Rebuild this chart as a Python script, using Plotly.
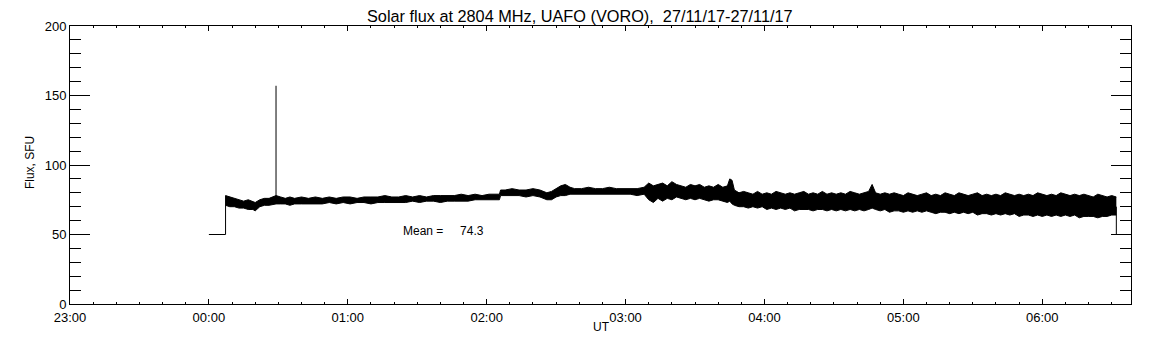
import pandas as pd
import plotly.graph_objects as go

# ---- data (minutes after 00:00 UT, 27/11/17; flux in SFU) ----
band_minutes = [
    7.2, 9, 11, 13, 15, 17, 19, 20, 22, 24, 26, 28, 29, 31, 33, 35, 37, 40, 43, 46,
    49, 52, 55, 58, 61, 64, 67, 70, 73, 76, 79, 82, 85, 88, 91, 94, 97, 100, 103, 106,
    109, 112, 115, 118, 121, 124, 125.5, 126, 128, 131, 134, 137, 140, 143, 146, 148, 150, 152, 154, 156,
    158, 161, 164, 167, 170, 173, 176, 179, 182, 185, 188, 190, 192, 194, 196, 198, 200, 202, 204, 206,
    208, 210, 212, 214, 216, 218, 220, 222, 224, 225, 226, 227, 229, 231, 233, 235, 237, 239, 241, 243,
    245, 247, 249, 251, 253, 255, 257, 259, 261, 263, 265, 267, 269, 271, 273, 275, 277, 279, 281, 283,
    285, 286.5, 288, 290, 292, 294, 296, 298, 300, 302, 304, 306, 308, 310, 312, 314, 316, 318, 320, 322,
    324, 326, 328, 330, 332, 334, 336, 338, 340, 342, 344, 346, 348, 350, 352, 354, 356, 358, 360, 362,
    364, 366, 368, 370, 372, 374, 376, 378, 380, 382, 384, 386, 388, 390, 392,
]
band_upper = [
    78, 77, 76, 75, 74, 75, 74, 73, 75, 76, 76, 77, 78, 77, 76, 77, 76, 77, 76, 77,
    76, 77, 76, 77, 77, 76, 77, 77, 77, 78, 77, 77, 78, 77, 78, 77, 78, 78, 78, 78,
    79, 78, 79, 78, 79, 79, 79, 82, 82, 83, 82, 82, 83, 82, 80, 81, 83, 85, 86, 84,
    83, 83, 84, 83, 83, 84, 83, 83, 83, 83, 84, 87, 85, 86, 87, 85, 88, 86, 85, 84,
    86, 85, 86, 84, 85, 84, 86, 84, 85, 90, 89, 82, 80, 81, 80, 79, 81, 79, 80, 79,
    81, 80, 79, 80, 79, 80, 81, 79, 80, 79, 81, 79, 80, 79, 80, 79, 81, 80, 79, 80,
    81, 86, 80, 79, 80, 79, 80, 79, 78, 80, 79, 78, 79, 80, 78, 79, 78, 80, 79, 78,
    80, 79, 78, 79, 80, 78, 79, 78, 79, 78, 80, 79, 78, 79, 78, 79, 78, 80, 79, 78,
    79, 78, 80, 79, 78, 79, 78, 79, 78, 77, 79, 78, 77, 78, 77,
]
band_lower = [
    71, 70, 70, 69, 69, 68, 68, 67, 70, 71, 71, 72, 72, 72, 72, 71, 72, 72, 72, 72,
    72, 73, 72, 73, 72, 73, 73, 72, 73, 73, 73, 73, 73, 74, 73, 74, 74, 73, 74, 74,
    74, 74, 75, 75, 75, 75, 75, 78, 78, 78, 78, 77, 78, 77, 75, 75, 77, 78, 78, 79,
    79, 79, 79, 79, 79, 79, 79, 79, 79, 78, 79, 75, 73, 76, 74, 76, 75, 77, 76, 75,
    76, 75, 76, 75, 74, 75, 75, 74, 73, 74, 72, 71, 70, 70, 69, 70, 69, 70, 68, 69,
    68, 69, 68, 69, 67, 68, 68, 68, 67, 68, 68, 67, 68, 67, 68, 67, 68, 67, 68, 67,
    68, 69, 68, 67, 68, 66, 67, 67, 66, 67, 66, 67, 66, 67, 66, 65, 66, 66, 65, 66,
    65, 66, 65, 66, 64, 65, 65, 64, 65, 64, 65, 64, 65, 63, 64, 64, 63, 64, 63, 64,
    63, 64, 63, 64, 63, 64, 62, 63, 63, 63, 62, 63, 63, 64, 64,
]

# baseline before/after observation, and the spike
start_minutes = [0.0, 7.2, 7.2]
start_values = [50, 50, 78]
spike_minutes = [29, 29]
spike_values = [74, 157]
end_minutes = [392, 392]
end_values = [70, 50]

mean_value = 74.3
title_text = "Solar flux at 2804 MHz, UAFO (VORO),\u00a0\u00a027/11/17-27/11/17"
base_date = "2017-11-27 00:00"
x_range = ["2017-11-26 23:00", "2017-11-27 06:38:20"]


def to_time(minutes):
    return pd.Timestamp(base_date) + pd.to_timedelta(minutes, unit="m")


FONT = "Liberation Sans"
fig = go.Figure()

fig.add_trace(go.Scatter(x=to_time(band_minutes), y=band_lower, mode="lines",
                         line=dict(color="black", width=1),
                         hoverinfo="skip", showlegend=False))
fig.add_trace(go.Scatter(x=to_time(band_minutes), y=band_upper, mode="lines", fill="tonexty",
                         fillcolor="black", line=dict(color="black", width=1),
                         showlegend=False))
for xs, ys in [(start_minutes, start_values), (spike_minutes, spike_values), (end_minutes, end_values)]:
    fig.add_trace(go.Scatter(x=to_time(xs), y=ys, mode="lines",
                             line=dict(color="black", width=1), showlegend=False))

fig.update_layout(
    width=1144, height=337,
    margin=dict(l=62, r=21, t=11, b=41),
    paper_bgcolor="white", plot_bgcolor="white",
    font=dict(family=FONT, size=13, color="black"),
    showlegend=False,
    xaxis=dict(
        type="date", range=x_range, tickformat="%H:%M",
        tick0="2017-11-26 23:00", dtick=3600000,
        ticks="inside", ticklen=5, tickwidth=1, tickcolor="black",
        showline=True, linecolor="black", linewidth=1, mirror="allticks",
        showgrid=False, zeroline=False, ticklabelstandoff=1,
        minor=dict(dtick=600000, ticks="inside", ticklen=2, tickcolor="black", showgrid=False),
    ),
    yaxis=dict(
        range=[0, 200], tick0=0, dtick=50,
        ticks="inside", ticklen=20, tickwidth=1, tickcolor="black",
        showline=True, linecolor="black", linewidth=1, mirror="allticks",
        showgrid=False, zeroline=False, ticklabelstandoff=0,
        minor=dict(dtick=10, ticks="inside", ticklen=11, tickcolor="black", showgrid=False),
    ),
    annotations=[
        dict(text=title_text, xref="paper", yref="paper", x=0.4807, y=1.035,
             xanchor="center", yanchor="middle", showarrow=False, font=dict(size=16.3)),
        dict(text="Flux, SFU", xref="paper", yref="paper", x=-0.0377, y=0.507,
             textangle=-90, xanchor="center", yanchor="middle", showarrow=False, font=dict(size=12)),
        dict(text="UT", xref="paper", yref="paper", x=0.5005, y=-0.0825,
             xanchor="center", yanchor="middle", showarrow=False, font=dict(size=12)),
        dict(text="Mean =" + "\u00a0" * 5 + f"{mean_value}", xref="x", yref="y",
             x=to_time(83), y=52.3, xanchor="left", yanchor="middle", showarrow=False,
             font=dict(size=12)),
    ],
)

fig.write_html("out.html")
